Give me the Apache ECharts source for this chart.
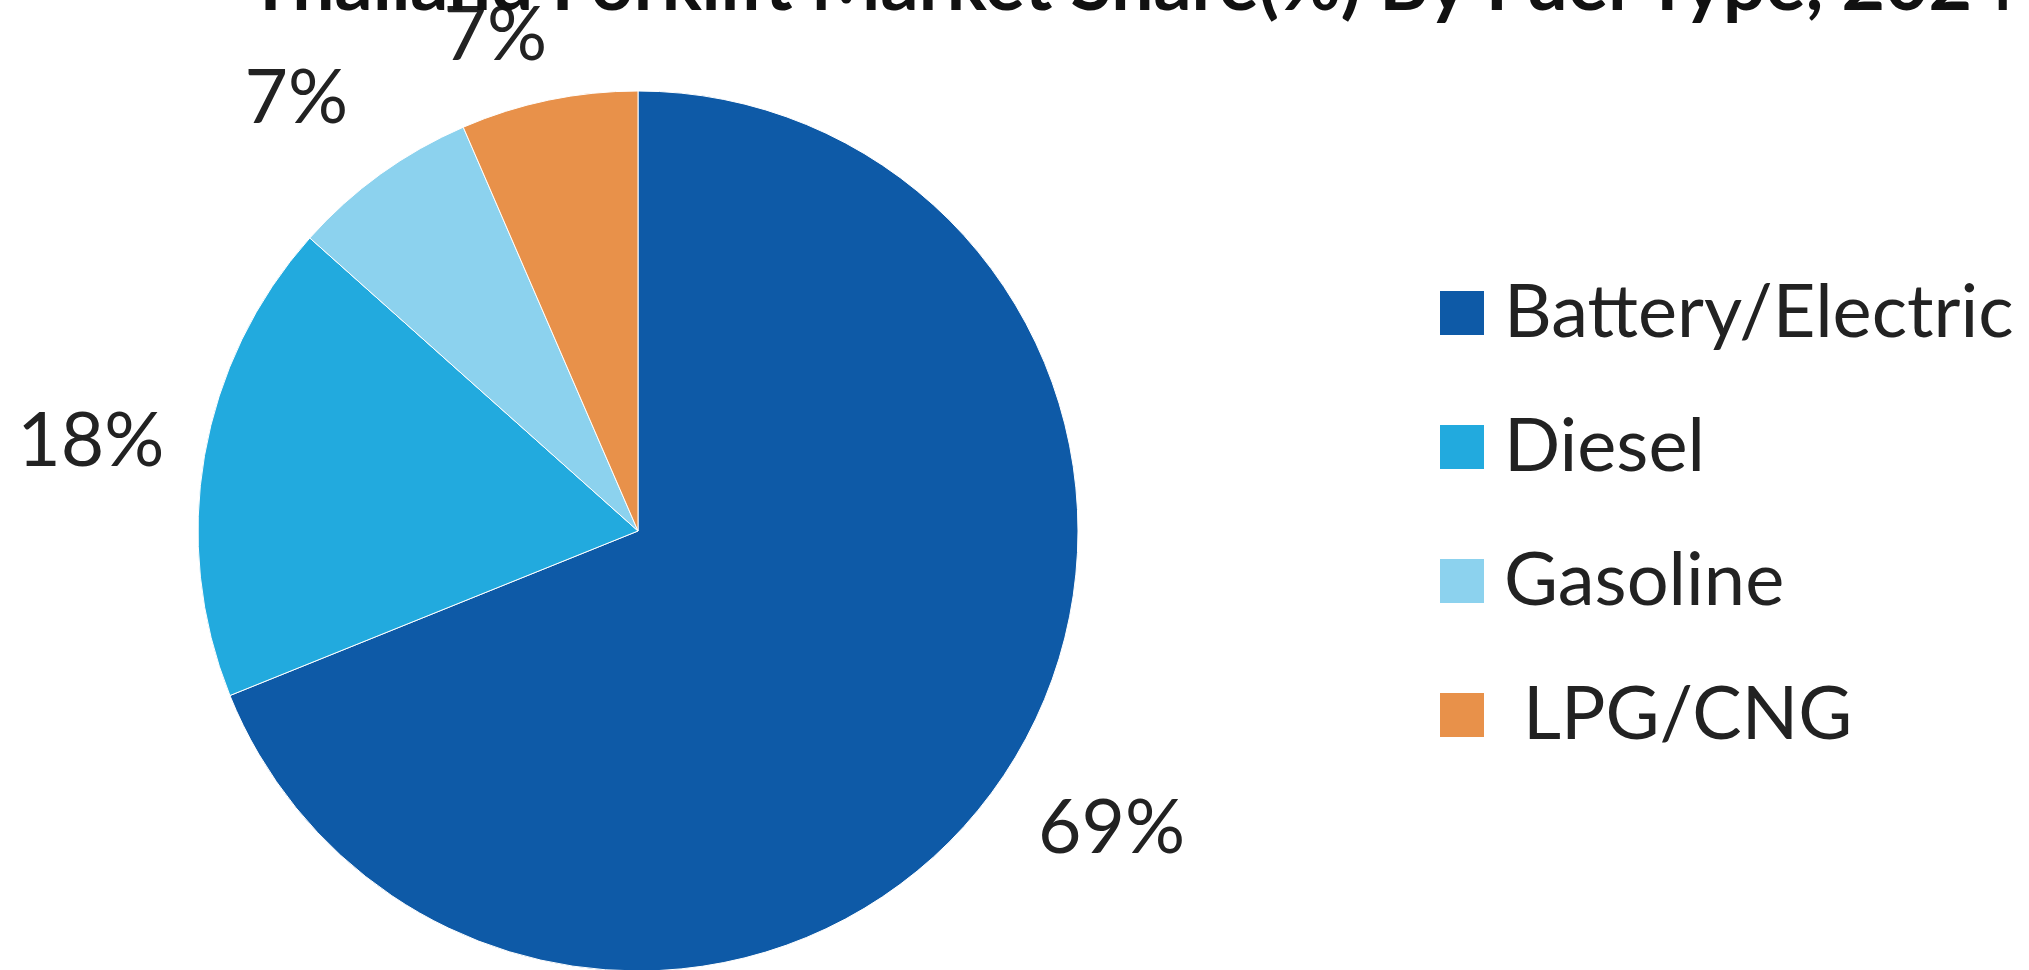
<!DOCTYPE html>
<html>
<head>
<meta charset="utf-8">
<title>Thailand Forklift Market Share by Fuel Type</title>
<script src="https://cdn.jsdelivr.net/npm/echarts@6/dist/echarts.min.js"></script>
<style>
  html, body { margin: 0; padding: 0; background: #fff; }
  #chart { width: 2029px; height: 970px; }
</style>
</head>
<body>
<div id="chart"></div>
<script>
// fuel types and their share (%)
const fuelTypes = ['Battery/Electric', 'Diesel', 'Gasoline', ' LPG/CNG']
const shares = [68.9, 17.7, 6.9, 6.5]
const sliceColors = ['#0e5aa7', '#22aade', '#8cd2ee', '#e8914a']

// small nudges so the % labels sit where the original put them
const labelNudge = [[-21, 17], [26, -3], [9, -25], [16, -4]]

const chart = echarts.init(document.getElementById('chart'))

chart.setOption({
  backgroundColor: '#fff',
  animation: false,
  title: {
    text: 'Thailand Forklift Market Share(%) By Fuel Type, 2024',
    left: 243,
    top: -57,
    textStyle: {
      fontFamily: 'Lato',
      fontWeight: 'bold',
      fontSize: 75,
      color: '#111'
    }
  },
  legend: {
    orient: 'vertical',
    left: 1433,
    top: 271,
    icon: 'rect',
    itemWidth: 46,
    itemHeight: 46,
    itemGap: 60,
    selectedMode: false,
    textStyle: {
      fontFamily: 'Lato',
      fontSize: 74,
      color: '#222',
      padding: [0, 0, 0, 14]
    },
    data: fuelTypes
  },
  series: [
    {
      type: 'pie',
      center: [638, 531],
      radius: 440,
      startAngle: 90,
      clockwise: true,
      avoidLabelOverlap: false,
      itemStyle: { borderColor: '#fff', borderWidth: 1 },
      label: {
        show: true,
        position: 'outside',
        fontFamily: 'Lato',
        fontSize: 75,
        color: '#222',
        formatter: p => Math.round(p.value) + '%'
      },
      labelLine: { show: false, length: 62, length2: 0 },
      labelLayout: p => ({ dx: labelNudge[p.dataIndex][0], dy: labelNudge[p.dataIndex][1] }),
      emphasis: { disabled: true },
      data: fuelTypes.map((name, i) => ({
        name: name,
        value: shares[i],
        itemStyle: { color: sliceColors[i] }
      }))
    }
  ]
})
</script>
</body>
</html>
